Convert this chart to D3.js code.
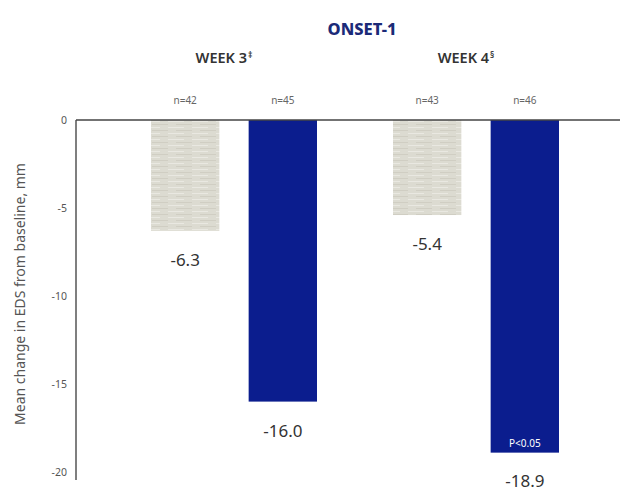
<!DOCTYPE html>
<html>
<head>
<meta charset="utf-8">
<script src="https://cdn.jsdelivr.net/npm/d3@7"></script>
<style>
  body { margin: 0; background: #fff; }
  text { font-family: "Noto Sans", "DejaVu Sans", sans-serif; }
</style>
</head>
<body>
<div id="chart"></div>
<script>
// chart values
var weeks = ["WEEK 3", "WEEK 4"];
var weekMarks = ["\u2021", "\u00a7"];
var arms = ["Placebo", "Active"];
var placeboValues = [-6.3, -5.4];
var activeValues = [-16.0, -18.9];
var placeboN = [42, 43];
var activeN = [45, 46];
var yTicks = [0, -5, -10, -15, -20];
var pNotes = ["", "P<0.05"];

var width = 625, height = 491;

var svg = d3.select("#chart")
    .append("svg")
    .attr("width", width)
    .attr("height", height);

// light textured fill for the placebo bars
var defs = svg.append("defs");
var pat = defs.append("pattern")
    .attr("id", "grain")
    .attr("patternUnits", "userSpaceOnUse")
    .attr("width", 24)
    .attr("height", 6);
pat.append("rect").attr("width", 24).attr("height", 6).attr("fill", "#dcdbd1");
pat.append("rect").attr("x", 0).attr("y", 1).attr("width", 16).attr("height", 1).attr("fill", "#e9e8e1");
pat.append("rect").attr("x", 8).attr("y", 4).attr("width", 16).attr("height", 1).attr("fill", "#d0cec3");

var x0 = d3.scaleBand()
    .domain(weeks)
    .range([113, 597]);

var x1 = d3.scaleBand()
    .domain(arms)
    .range([38, 204])
    .paddingInner(0.3)
    .paddingOuter(0);

var y = d3.scaleLinear()
    .domain([0, -20])
    .range([120, 472]);

var colors = { "Placebo": "url(#grain)", "Active": "#0b1d8e" };

// rows for each bar
var rows = [];
weeks.forEach(function (w, i) {
    rows.push({ week: w, arm: "Placebo", value: placeboValues[i], n: placeboN[i], note: "" });
    rows.push({ week: w, arm: "Active", value: activeValues[i], n: activeN[i], note: pNotes[i] });
});

function barMid(d) { return x0(d.week) + x1(d.arm) + x1.bandwidth() / 2; }

// title
svg.append("text")
    .attr("x", 362)
    .attr("y", 35)
    .attr("text-anchor", "middle")
    .attr("font-size", 16.5)
    .attr("font-weight", 800)
    .attr("fill", "#1b2a78")
    .text("ONSET-1");

// week headers
var heads = svg.selectAll(".week")
    .data(weeks)
    .enter()
    .append("text")
    .attr("class", "week")
    .attr("x", function (d) { return x0(d) + x0.bandwidth() / 2 - 10; })
    .attr("y", 63)
    .attr("text-anchor", "middle")
    .attr("font-size", 14.5)
    .attr("font-weight", 600)
    .attr("fill", "#333");
heads.append("tspan").text(function (d) { return d; });
heads.append("tspan")
    .attr("dx", 1)
    .attr("dy", -5)
    .attr("font-size", 8.5)
    .text(function (d, i) { return weekMarks[i]; });

// bars
svg.selectAll(".bar")
    .data(rows)
    .enter()
    .append("rect")
    .attr("class", "bar")
    .attr("x", function (d) { return x0(d.week) + x1(d.arm); })
    .attr("y", y(0))
    .attr("width", x1.bandwidth())
    .attr("height", function (d) { return y(d.value) - y(0); })
    .attr("fill", function (d) { return colors[d.arm]; });

// n labels
svg.selectAll(".nlab")
    .data(rows)
    .enter()
    .append("text")
    .attr("class", "nlab")
    .attr("x", barMid)
    .attr("y", 104)
    .attr("text-anchor", "middle")
    .attr("font-size", 10)
    .attr("fill", "#666")
    .text(function (d) { return "n=" + d.n; });

// value labels below bars
svg.selectAll(".vlab")
    .data(rows)
    .enter()
    .append("text")
    .attr("class", "vlab")
    .attr("x", barMid)
    .attr("y", function (d) { return Math.min(y(d.value) + 35, 487); })
    .attr("text-anchor", "middle")
    .attr("font-size", 17)
    .attr("fill", "#333")
    .text(function (d) { return d.value.toFixed(1); });

// p-value inside bar
svg.selectAll(".plab")
    .data(rows.filter(function (d) { return d.note; }))
    .enter()
    .append("text")
    .attr("class", "plab")
    .attr("x", barMid)
    .attr("y", function (d) { return y(d.value) - 6; })
    .attr("text-anchor", "middle")
    .attr("font-size", 10)
    .attr("fill", "#fff")
    .text(function (d) { return d.note; });

// y axis
var yAxis = d3.axisLeft(y)
    .tickValues(yTicks)
    .tickSize(0)
    .tickPadding(9)
    .tickFormat(function (d) { return String(d); });

var gy = svg.append("g")
    .attr("transform", "translate(76,0)")
    .call(yAxis);
gy.select(".domain")
    .attr("d", "M0," + y(0) + "V" + (y(-20) + 8))
    .attr("stroke", "#555")
    .attr("stroke-width", 1.5);
gy.selectAll("text")
    .attr("font-size", 10.5)
    .attr("fill", "#555")
    .attr("font-family", "'DejaVu Sans', sans-serif");

// zero line across
svg.append("line")
    .attr("x1", 76)
    .attr("x2", 620)
    .attr("y1", y(0))
    .attr("y2", y(0))
    .attr("stroke", "#444")
    .attr("stroke-width", 1.5);

// y title
svg.append("text")
    .attr("transform", "translate(25,294) rotate(-90)")
    .attr("text-anchor", "middle")
    .attr("font-size", 14)
    .attr("fill", "#555")
    .text("Mean change in EDS from baseline, mm");
</script>
</body>
</html>
